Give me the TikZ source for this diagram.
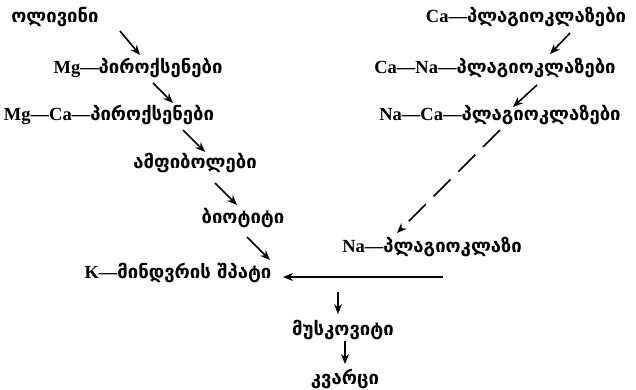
\documentclass[tikz,border=0pt]{standalone}
\usepackage{fontspec}
\setmainfont{Liberation Serif}
\newfontfamily\geo{DejaVu Sans}
\usetikzlibrary{arrows.meta}
\tikzset{
  lbl/.style={inner sep=0pt, anchor=center, font=\fontsize{18.5}{20}\selectfont\bfseries},
  arr/.style={line width=1.6pt, -{Stealth[length=10pt,width=8pt]}},
  darr/.style={arr, dash pattern=on 24pt off 11pt},
}
\begin{document}
\begin{tikzpicture}[x=1pt,y=-1pt]
\useasboundingbox (0,0) rectangle (636,390);
% left branch
\node[lbl] (ol) at (55,17) {\geo ოლივინი};
\node[lbl] (mgp) at (138,68) {Mg—{\geo პიროქსენები}};
\node[lbl] (mgcap) at (109,115) {Mg—Ca—{\geo პიროქსენები}};
\node[lbl] (amf) at (195,163) {\geo ამფიბოლები};
\node[lbl] (bio) at (243,218) {\geo ბიოტიტი};
\node[lbl] (kms) at (178,273) {K—{\geo მინდვრის შპატი}};
% right branch
\node[lbl] (capl) at (526,17) {Ca—{\geo პლაგიოკლაზები}};
\node[lbl] (canapl) at (495,68) {Ca—Na—{\geo პლაგიოკლაზები}};
\node[lbl] (nacapl) at (500,115) {Na—Ca—{\geo პლაგიოკლაზები}};
\node[lbl] (napl) at (432,247) {Na—{\geo პლაგიოკლაზი}};
% bottom
\node[lbl] (mus) at (343,330) {\geo მუსკოვიტი};
\node[lbl] (kva) at (345,379) {\geo კვარცი};
% connectors
\coordinate (a1s) at (120,31); \coordinate (a1e) at (140,55);
\coordinate (a2s) at (153,83); \coordinate (a2e) at (173,103);
\coordinate (a3s) at (183,130); \coordinate (a3e) at (205,152);
\coordinate (a4s) at (215,183); \coordinate (a4e) at (237,205);
\coordinate (a5s) at (247,237); \coordinate (a5e) at (270,260);
\draw[arr] (a1s) -- (a1e);
\draw[arr] (a2s) -- (a2e);
\draw[arr] (a3s) -- (a3e);
\draw[arr] (a4s) -- (a4e);
\draw[arr] (a5s) -- (a5e);
\coordinate (b1s) at (570,33); \coordinate (b1e) at (550,54);
\coordinate (b2s) at (537,85); \coordinate (b2e) at (513,107);
\coordinate (b3s) at (500,130); \coordinate (b3e) at (397,233);
\draw[arr] (b1s) -- (b1e);
\draw[arr] (b2s) -- (b2e);
\draw[darr] (b3s) -- (b3e);
\coordinate (hs) at (443,277); \coordinate (he) at (283,277);
\draw[arr] (hs) -- (he);
\coordinate (d1s) at (338,292); \coordinate (d1e) at (338,314);
\coordinate (d2s) at (345,341); \coordinate (d2e) at (345,364);
\draw[arr] (d1s) -- (d1e);
\draw[arr] (d2s) -- (d2e);
\end{tikzpicture}
\end{document}
